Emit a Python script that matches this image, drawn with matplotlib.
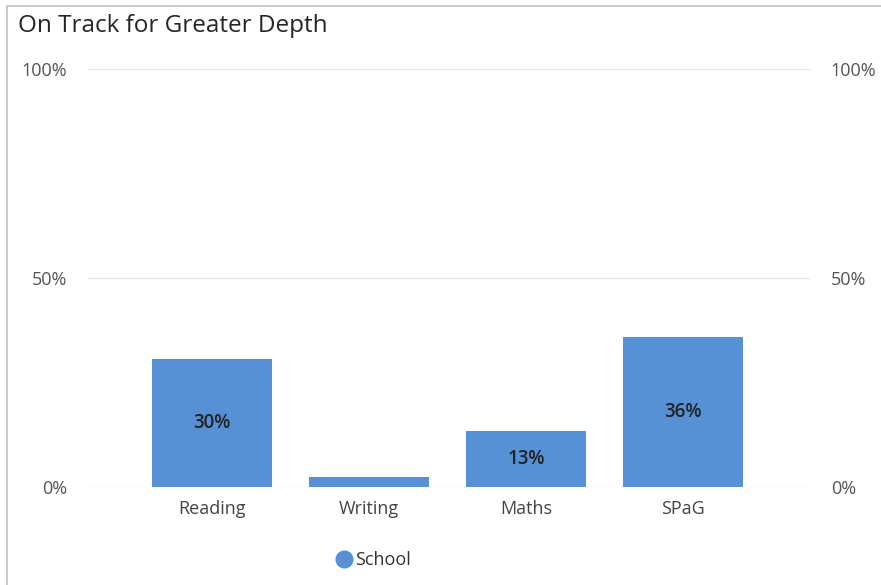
import matplotlib
matplotlib.use("Agg")
import matplotlib.pyplot as plt
from matplotlib.patches import Rectangle
from matplotlib.lines import Line2D

categories = ["Reading", "Writing", "Maths", "SPaG"]
values = [30.6, 2.4, 13.4, 35.9]
labels = ["30%", "", "13%", "36%"]
yticks = [0, 50, 100]
ytick_labels = ["0%", "50%", "100%"]
series_name = "School"

bar_color = "#5591D4"
plt.rcParams['font.family'] = ['Open Sans', 'DejaVu Sans']

fig = plt.figure(figsize=(8.81, 5.85), dpi=100)
ax = fig.add_axes([88/881, 1-487/585, (810-88)/881, (487-69)/585])

x = list(range(len(categories)))
ax.bar(x, values, width=0.765, color=bar_color, zorder=3)
for xi, v, lab in zip(x, values, labels):
    if lab:
        ax.text(xi, v/2, lab, ha='center', va='center', fontsize=13.5,
                fontweight='semibold', color='#222222', zorder=4)

ax.set_xlim(-0.79, 3.81)
ax.set_ylim(0, 100)
ax.set_yticks(yticks)
ax.set_yticklabels(ytick_labels)
ax.grid(axis='y', color='#E6E6E6', linewidth=1, zorder=0)
for s in ax.spines.values():
    s.set_visible(False)
ax.tick_params(axis='both', length=0, labelsize=13, colors='#555555')
ax.tick_params(axis='y', pad=15, labelright=True, right=False)
ax.set_xticks(x)
ax.set_xticklabels(categories, color='#444444')
ax.tick_params(axis='x', pad=9.5)

fig.text(18/881, 1-26/585, "On Track for Greater Depth", fontsize=17.5,
         color='#252525', va='center', ha='left')

# legend
handle = Line2D([], [], marker='o', linestyle='none', markersize=12,
                markerfacecolor=bar_color, markeredgecolor=bar_color)
fig.legend([handle], [series_name], loc='center', bbox_to_anchor=(372/881, 1-560/585),
           frameon=False, fontsize=13, handletextpad=0.0, labelcolor='#333333',
           handlelength=1.2)

# border
fig.add_artist(Rectangle((7/881, -0.01), 1.0, 1-6/585+0.01, transform=fig.transFigure,
                         fill=False, edgecolor='#C0C0C0', linewidth=1.2))

fig.savefig("out.png", dpi=100)
